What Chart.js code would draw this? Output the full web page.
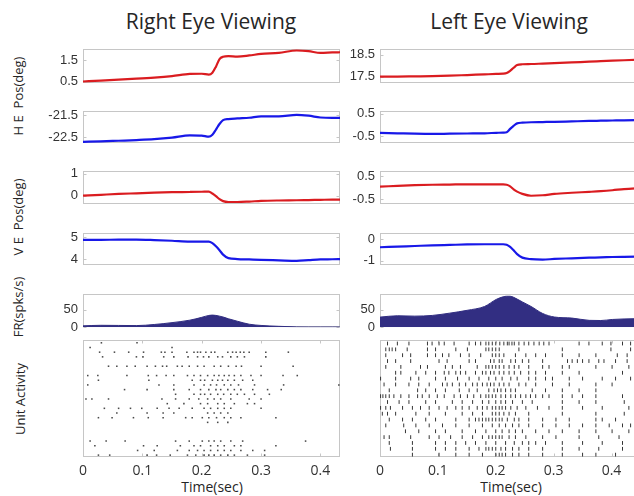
<!DOCTYPE html>
<html>
<head>
<meta charset="utf-8">
<script src="https://cdn.jsdelivr.net/npm/chart.js@4.4.1/dist/chart.umd.min.js"></script>
<style>
  html, body { margin: 0; padding: 0; background: #fff; overflow: hidden; }
  #fig { position: relative; width: 634px; height: 496px; overflow: hidden; background: #fff; }
  #fig canvas { position: absolute; }
  .txt { position: absolute; font-family: "Open Sans", "Noto Sans", sans-serif; color: #262626; white-space: nowrap; line-height: 1; }
  .colTitle { font-size: 21px; top: 11px; transform: translateX(-50%); }
  .side { font-size: 13px; transform: translate(-50%, -50%) rotate(-90deg); }
  .xTitle { font-size: 14px; top: 480px; transform: translateX(-50%); }
</style>
</head>
<body>
<div id="fig">
  <div class="txt colTitle" style="left:211px">Right Eye Viewing</div>
  <div class="txt colTitle" style="left:509px">Left Eye Viewing</div>
  <div class="txt side" style="left:18px; top:96px">H E&nbsp;&nbsp;Pos(deg)</div>
  <div class="txt side" style="left:18px; top:217px">V E&nbsp;&nbsp;Pos(deg)</div>
  <div class="txt side" style="left:18px; top:307px">FR(spks/s)</div>
  <div class="txt side" style="left:20px; top:399px">Unit Activity</div>
  <div class="txt xTitle" style="left:212px">Time(sec)</div>
  <div class="txt xTitle" style="left:511px">Time(sec)</div>
</div>
<script>
// ---------- data: Right Eye Viewing ----------
const timeRE = [0, 0.03, 0.06, 0.09, 0.12, 0.15, 0.18, 0.2, 0.212, 0.218, 0.224, 0.23, 0.236, 0.245, 0.26, 0.28, 0.3, 0.33, 0.36, 0.38, 0.4, 0.42, 0.435];
const heRedRE  = [0.51, 0.55, 0.60, 0.64, 0.69, 0.76, 0.86, 0.87, 0.83, 0.92, 1.2, 1.55, 1.66, 1.69, 1.67, 1.72, 1.79, 1.84, 1.95, 1.92, 1.84, 1.86, 1.87];
const heBlueRE = [-22.70, -22.68, -22.65, -22.62, -22.58, -22.51, -22.41, -22.42, -22.47, -22.38, -22.15, -21.9, -21.73, -21.68, -21.65, -21.62, -21.56, -21.56, -21.49, -21.53, -21.61, -21.63, -21.63];
const veRedRE  = [0.0, 0.04, 0.08, 0.11, 0.14, 0.16, 0.17, 0.18, 0.19, 0.1, -0.02, -0.16, -0.25, -0.29, -0.29, -0.27, -0.24, -0.22, -0.21, -0.2, -0.19, -0.18, -0.18];
const veBlueRE = [4.87, 4.87, 4.88, 4.88, 4.86, 4.83, 4.79, 4.79, 4.79, 4.72, 4.58, 4.4, 4.2, 4.04, 4.0, 3.98, 3.96, 3.94, 3.92, 3.95, 3.98, 3.99, 4.0];
const rateRE   = [3.8, 5.4, 5.0, 4.6, 7.7, 13, 20, 28, 33.5, 34.5, 33.5, 31.5, 29, 24, 17, 8.5, 5, 2.5, 0.8, 0.5, 0.5, 0.5, 0.5];

// spike times (ms), one list per trial
const spikesRE = [
  [31, 91],
  [12, 150],
  [28, 53, 77, 102, 132, 138, 150, 175, 187, 193, 198, 207, 216, 222, 244, 252, 258, 265, 271, 280, 308, 346],
  [33, 90, 101, 136, 153, 177, 193, 203, 212, 227, 235, 249, 260, 272, 308],
  [],
  [43, 57, 74, 88, 108, 122, 134, 141, 159, 167, 179, 193, 204, 221, 232, 245, 258, 267, 300, 354],
  [],
  [8, 25, 74, 110, 124, 140, 153, 176, 187, 198, 210, 221, 229, 238, 246, 255, 266, 283, 300, 337, 361],
  [26, 111, 184, 198, 205, 218, 227, 235, 244, 255, 269, 286],
  [8, 128, 153, 187, 204, 215, 225, 238, 249, 262, 289, 338, 431],
  [70, 108, 153, 179, 198, 212, 224, 232, 244, 255, 266, 286, 311, 334],
  [156, 187, 198, 205, 215, 227, 237, 249, 260, 272, 289, 314],
  [5, 15, 43, 133, 156, 179, 195, 210, 221, 232, 249, 280, 300],
  [142, 170, 198, 210, 227, 238, 255, 277, 289],
  [36, 60, 80, 99, 125, 145, 162, 184, 204, 215, 227, 238, 249, 300],
  [57, 108, 135, 153, 210, 221, 232, 244],
  [26, 49, 85, 110, 135, 173, 184, 201, 212, 225, 238, 249, 266, 325],
  [210, 227, 244],
  [],
  [],
  [],
  [12, 39, 71, 156, 179, 201, 212, 221, 232, 249, 269, 375],
  [20, 102, 125, 164, 187, 198, 215, 227, 238, 255, 266, 325],
  [92, 120, 159, 179, 193, 204, 215, 227, 238, 249, 266, 286, 306],
  [26, 45, 108, 124, 147, 176, 190, 204, 212, 221, 232, 244, 255, 277, 306]
];

// ---------- data: Left Eye Viewing ----------
const timeLE = [0, 0.03, 0.06, 0.09, 0.12, 0.15, 0.18, 0.2, 0.212, 0.218, 0.224, 0.23, 0.236, 0.245, 0.26, 0.28, 0.3, 0.33, 0.36, 0.38, 0.4, 0.42, 0.45];
const heRedLE  = [17.5, 17.5, 17.51, 17.52, 17.54, 17.57, 17.6, 17.62, 17.63, 17.66, 17.76, 17.9, 18.02, 18.06, 18.07, 18.09, 18.11, 18.14, 18.18, 18.2, 18.22, 18.24, 18.27];
const heBlueLE = [-0.36, -0.38, -0.4, -0.41, -0.4, -0.39, -0.38, -0.36, -0.35, -0.33, -0.18, -0.04, 0.07, 0.1, 0.12, 0.13, 0.14, 0.16, 0.18, 0.19, 0.2, 0.21, 0.22];
const veRedLE  = [0.04, 0.07, 0.1, 0.12, 0.13, 0.14, 0.14, 0.14, 0.14, 0.12, 0.05, -0.08, -0.18, -0.28, -0.36, -0.34, -0.28, -0.23, -0.19, -0.16, -0.12, -0.07, -0.02];
const veBlueLE = [-0.38, -0.35, -0.32, -0.29, -0.27, -0.25, -0.24, -0.24, -0.24, -0.26, -0.36, -0.52, -0.7, -0.86, -0.93, -0.95, -0.92, -0.89, -0.86, -0.85, -0.83, -0.82, -0.81];
const rateLE   = [28.7, 32.5, 31.5, 33.5, 40, 48, 59, 79, 86.5, 88, 88, 85, 80, 72, 59, 39, 29, 26, 19.5, 19, 22, 23.5, 24.5];

const spikesLE = [
  [13, 30, 50, 82, 90, 102, 111, 128, 154, 165, 174, 183, 188, 194, 200, 207, 214, 220, 223, 228, 232, 240, 249, 257, 266, 275, 283, 292, 344, 361, 384, 399, 419, 433],
  [10, 16, 21, 27, 47, 82, 96, 131, 151, 183, 188, 194, 200, 206, 240, 315, 399, 433],
  [10, 39, 53, 82, 96, 108, 119, 139, 154, 174, 194, 200, 206, 214, 234, 252, 269, 286, 315, 344, 373, 410, 427],
  [13, 27, 53, 102, 116, 154, 165, 191, 197, 206, 211, 226, 234, 246, 257, 281, 324, 332, 341, 350, 361, 378, 387, 407, 427],
  [10, 36, 70, 82, 113, 125, 139, 168, 183, 188, 194, 200, 206, 214, 223, 232, 240, 257, 281, 292, 315, 327, 373, 401, 430],
  [27, 36, 62, 79, 96, 111, 119, 131, 139, 148, 165, 177, 183, 191, 197, 206, 214, 223, 232, 243, 257, 269, 286, 315, 344, 419],
  [1, 27, 53, 67, 96, 113, 134, 154, 171, 188, 200, 211, 226, 237, 257, 269, 286, 298, 327, 350, 384, 407, 433],
  [7, 27, 50, 67, 85, 108, 116, 125, 137, 148, 160, 168, 177, 185, 191, 197, 206, 214, 223, 240, 252, 269, 298, 327, 373, 401],
  [16, 65, 79, 96, 113, 137, 154, 168, 188, 197, 203, 209, 217, 226, 234, 263, 286, 315, 344, 373],
  [1, 5, 10, 16, 24, 36, 50, 65, 73, 85, 99, 111, 128, 139, 151, 162, 174, 183, 188, 194, 200, 209, 217, 226, 234, 243, 252, 260, 269, 281, 292, 315, 332, 350, 373, 419],
  [13, 33, 50, 79, 96, 125, 142, 160, 177, 188, 200, 209, 217, 229, 246, 263, 315, 344, 373, 422],
  [1, 10, 18, 39, 56, 70, 85, 102, 116, 131, 142, 154, 168, 177, 185, 194, 200, 206, 211, 217, 226, 237, 252, 272, 292, 315, 350, 384, 430],
  [4, 13, 27, 62, 85, 113, 142, 160, 177, 194, 200, 206, 214, 223, 234, 257, 315, 373, 422],
  [16, 39, 56, 79, 96, 131, 154, 165, 171, 177, 183, 188, 194, 200, 206, 211, 220, 232, 240, 257, 281, 304, 327, 373, 384, 407],
  [10, 41, 62, 85, 108, 131, 154, 177, 194, 206, 217, 229, 240, 257, 281, 304, 327, 350, 373, 396, 419, 433],
  [44, 67, 96, 113, 142, 165, 183, 200, 211, 223, 234, 246, 269, 292, 315, 344, 373, 401, 430],
  [7, 16, 53, 85, 102, 122, 142, 160, 177, 188, 194, 200, 206, 211, 223, 234, 252, 281, 304, 344, 378, 413],
  [16, 56, 96, 113, 131, 148, 165, 183, 200, 217, 232, 246, 257, 269, 286, 315, 350, 384, 419],
  [18, 56, 96, 113, 131, 154, 171, 183, 188, 194, 200, 209, 217, 229, 240, 257, 281, 315, 344, 378, 419],
  [56, 102, 131, 154, 177, 200, 206, 211, 217, 229, 240, 257, 281, 315, 350, 373, 407]
];

// axis ticks
const timeTicks = [0, 0.1, 0.2, 0.3, 0.4];
const heTicksRE = [0.5, 1.5],  heTicksRE2 = [-22.5, -21.5];
const veTicksRE = [0, 1],      veTicksRE2 = [4, 5];
const heTicksLE = [17.5, 18.5], heTicksLE2 = [-0.5, 0.5];
const veTicksLE = [-0.5, 0.5], veTicksLE2 = [-1, 0];
const rateTicks = [0, 50];

// ---------- layout ----------
const fig = document.getElementById('fig');
const YAXW = 50, PADT = 8, PADB = 8, PADR = 4, XAXH = 30;
const columns = {
  re: { left: 83, right: 340, xMax: 0.433 },
  le: { left: 380, right: 640, xMax: 0.4475 }
};
const rowBands = [[44, 88], [106, 148], [166, 209], [228, 270], [289, 332], [340, 457]];

const RED = 'rgb(218, 28, 32)';
const BLUE = 'rgb(24, 24, 232)';
const NAVY = 'rgb(50, 46, 130)';
const FRAME = '#c6c6c6';
const LABEL = '#333333';

// light box around each axes with short inward tick marks (both sides)
const framePlugin = {
  id: 'frame',
  beforeDatasetsDraw(chart) {
    const { ctx, chartArea: a, scales } = chart;
    const L = Math.round(a.left) + 0.5, R = Math.round(a.right) - 0.5;
    const T = Math.round(a.top) + 0.5, B = Math.round(a.bottom) - 0.5;
    ctx.save();
    ctx.strokeStyle = FRAME;
    ctx.lineWidth = 1;
    ctx.strokeRect(L, T, R - L, B - T);
    ctx.beginPath();
    const y = scales.y;
    if (y.options.display) {
      y.ticks.forEach(t => {
        const p = Math.round(y.getPixelForValue(t.value)) + 0.5;
        ctx.moveTo(L, p); ctx.lineTo(L + 3, p);
        ctx.moveTo(R, p); ctx.lineTo(R - 3, p);
      });
    }
    const x = scales.x;
    if (x.options.display) {
      x.ticks.forEach(t => {
        const p = Math.round(x.getPixelForValue(t.value)) + 0.5;
        ctx.moveTo(p, B); ctx.lineTo(p, B - 3);
        ctx.moveTo(p, T); ctx.lineTo(p, T + 3);
      });
    }
    ctx.stroke();
    ctx.restore();
  }
};

function makeCanvas(col, band, extraBottom) {
  const c = document.createElement('canvas');
  const w = col.right - col.left + YAXW + PADR;
  const h = band[1] - band[0] + PADT + PADB + extraBottom;
  c.width = w; c.height = h;
  c.style.left = (col.left - YAXW) + 'px';
  c.style.top = (band[0] - PADT) + 'px';
  c.style.width = w + 'px';
  c.style.height = h + 'px';
  fig.appendChild(c);
  return c;
}

function yScale(min, max, ticks) {
  return {
    type: 'linear', min, max,
    afterFit: s => { s.width = YAXW; },
    afterBuildTicks: s => { s.ticks = ticks.map(v => ({ value: v })); },
    grid: { display: false, drawTicks: false },
    border: { display: false },
    ticks: {
      padding: 5,
      color: LABEL,
      font: { family: '"Liberation Sans", Arial, sans-serif', size: 13 },
      callback: v => String(v)
    }
  };
}

function tracePanel(colKey, rowIdx, time, values, color, yMin, yMax, ticks, filled) {
  const col = columns[colKey];
  const canvas = makeCanvas(col, rowBands[rowIdx], 0);
  new Chart(canvas, {
    type: 'line',
    data: {
      datasets: [{
        data: time.map((t, i) => ({ x: t, y: values[i] })),
        borderColor: color,
        backgroundColor: color,
        borderWidth: filled ? 1 : 2.2,
        pointRadius: 0,
        cubicInterpolationMode: 'monotone',
        fill: filled ? 'origin' : false
      }]
    },
    options: {
      responsive: false,
      animation: false,
      events: [],
      layout: { padding: { top: PADT, bottom: PADB, right: PADR, left: 0 } },
      plugins: { legend: { display: false }, tooltip: { enabled: false } },
      scales: {
        x: { type: 'linear', display: false, min: 0, max: col.xMax },
        y: yScale(yMin, yMax, ticks)
      }
    },
    plugins: [framePlugin]
  });
}

function rasterPanel(colKey, trials, style) {
  const col = columns[colKey];
  const canvas = makeCanvas(col, rowBands[5], XAXH - PADB);
  const pts = [];
  trials.forEach((spk, i) => spk.forEach(ms => pts.push({ x: ms / 1000, y: i + 1 })));
  new Chart(canvas, {
    type: 'scatter',
    data: {
      datasets: [Object.assign({ data: pts }, style)]
    },
    options: {
      responsive: false,
      animation: false,
      events: [],
      layout: { padding: { top: PADT, bottom: 0, right: PADR, left: YAXW } },
      plugins: { legend: { display: false }, tooltip: { enabled: false } },
      scales: {
        x: {
          type: 'linear', min: 0, max: col.xMax,
          afterFit: s => { s.height = XAXH; },
          afterBuildTicks: s => { s.ticks = timeTicks.map(v => ({ value: v })); },
          grid: { display: false, drawTicks: false },
          border: { display: false },
          ticks: {
            padding: 6, autoSkip: false, maxRotation: 0,
            color: LABEL,
            font: { family: '"Open Sans", "Noto Sans", sans-serif', size: 14 },
            callback: v => String(v)
          }
        },
        y: { type: 'linear', display: false, reverse: true, min: 0.4, max: trials.length + 0.4 }
      }
    },
    plugins: [framePlugin]
  });
}

// ---------- Right Eye Viewing column ----------
tracePanel('re', 0, timeRE, heRedRE,  RED,  0.43, 2.03, heTicksRE);
tracePanel('re', 1, timeRE, heBlueRE, BLUE, -22.76, -21.31, heTicksRE2);
tracePanel('re', 2, timeRE, veRedRE,  RED,  -0.39, 1.14, veTicksRE);
tracePanel('re', 3, timeRE, veBlueRE, BLUE, 3.72, 5.19, veTicksRE2);
tracePanel('re', 4, timeRE, rateRE,   NAVY, 0, 95, rateTicks, true);
rasterPanel('re', spikesRE, {
  pointStyle: 'rect', pointRadius: 1.1, borderWidth: 0,
  backgroundColor: '#4a4a4a'
});

// ---------- Left Eye Viewing column ----------
tracePanel('le', 0, timeLE, heRedLE,  RED,  17.2, 18.76, heTicksLE);
tracePanel('le', 1, timeLE, heBlueLE, BLUE, -0.83, 0.64, heTicksLE2);
tracePanel('le', 2, timeLE, veRedLE,  RED,  -0.73, 0.73, veTicksLE);
tracePanel('le', 3, timeLE, veBlueLE, BLUE, -1.21, 0.29, veTicksLE2);
tracePanel('le', 4, timeLE, rateLE,   NAVY, 0, 95, rateTicks, true);
rasterPanel('le', spikesLE, {
  pointStyle: 'line', rotation: 90, pointRadius: 1.9, borderWidth: 1,
  borderColor: '#353535', backgroundColor: '#353535'
});
</script>
</body>
</html>
